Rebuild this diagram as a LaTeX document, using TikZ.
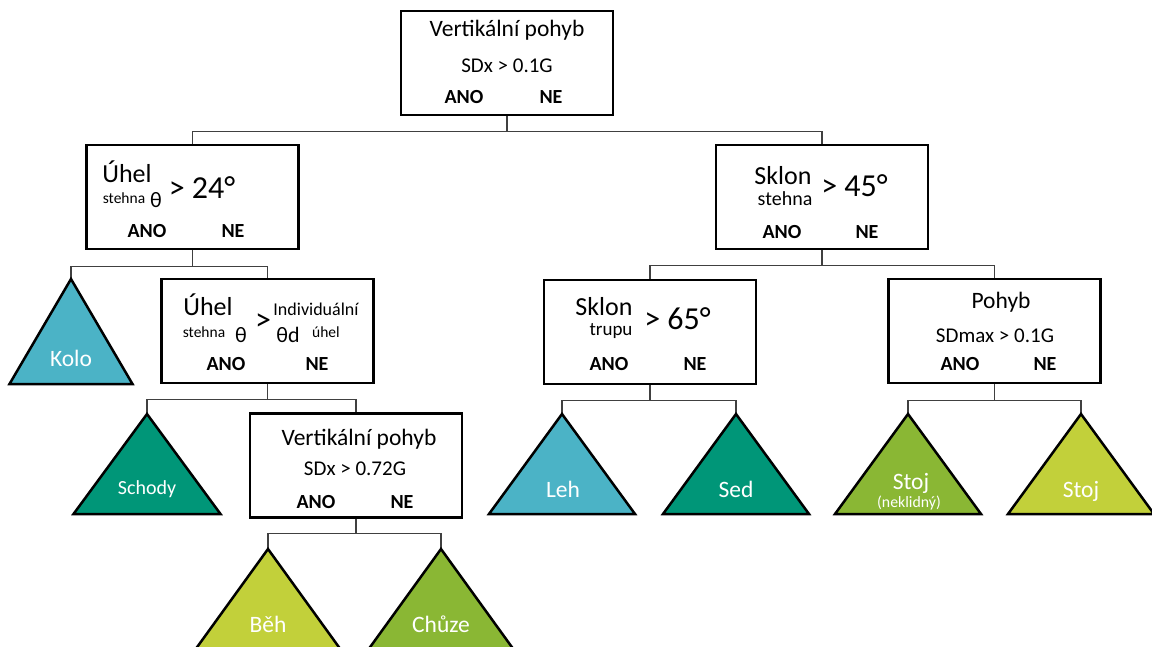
\documentclass[tikz,border=0pt]{standalone}
\usepackage{fontspec}
\setmainfont{Carlito}
\usepackage{xcolor}
\usepackage{tikz}
\usetikzlibrary{calc,positioning}
\definecolor{leafaqua}{RGB}{75,179,198}
\definecolor{leafteal}{RGB}{0,150,120}
\definecolor{leaflime}{RGB}{194,208,58}
\definecolor{leafgreen}{RGB}{138,183,52}

\begin{document}
\begin{tikzpicture}[
	x=1pt, y=-1pt,
	box/.style = {shape=rectangle, draw, line width=2.5pt,
	minimum width=212pt, minimum height=104pt, inner sep=0pt},
	leaf/.style = {draw, line width=2.5pt, line join=miter},
	conn/.style = {draw=black!75, line width=1.2pt},
	txt/.style = {anchor=base, inner sep=0pt},
	headtxt/.style = {txt, font=\fontsize{23.5}{28}\selectfont},
	ruletxt/.style = {txt, font=\fontsize{21}{25}\selectfont},
	yesno/.style = {txt, font=\fontsize{20}{24}\selectfont\bfseries},
	wordtxt/.style = {txt, font=\fontsize{26}{30}\selectfont},
	bigtxt/.style = {txt, font=\fontsize{32}{38}\selectfont},
	thetatxt/.style = {txt, font=\fontsize{22}{26}\selectfont},
	subtxt/.style = {txt, font=\fontsize{15.5}{18}\selectfont},
	leaflabel/.style = {txt, text=white, font=\fontsize{23.5}{28}\selectfont}
]
\useasboundingbox (0,0) rectangle (1152,646);

% root
\node[box] (vert) at (507,63) {};
\node[headtxt] (vertHead) at (507,36.5) {Vertikální pohyb};
\node[ruletxt] (vertRule) at (507,72) {SDx > 0.1G};
\node[yesno] (vertAno) at (464,103) {ANO};
\node[yesno] (vertNe) at (551,103) {NE};

% left: thigh angle
\node[box] (uhel) at (192.5,197) {};
\node[wordtxt] (uhelHead) at (127,182) {Úhel};
\node[subtxt] (uhelSub) at (124,203) {stehna};
\node[thetatxt] (uhelTheta) at (156,207) {θ};
\node[bigtxt] (uhelRule) at (202,198) {> 24°};
\node[yesno] (uhelAno) at (147,237) {ANO};
\node[yesno] (uhelNe) at (233,237) {NE};

% left: individual angle
\node[box] (uhelInd) at (267.5,331) {};
\node[wordtxt] (uhelIndHead) at (208,315) {Úhel};
\node[subtxt] (uhelIndSub) at (204,337) {stehna};
\node[thetatxt] (uhelIndTheta) at (241,342) {θ};
\node[bigtxt] (uhelIndGt) at (263,330) {>};
\node[txt, font=\fontsize{18}{22}\selectfont] (uhelIndWord) at (316,315) {Individuální};
\node[thetatxt] (uhelIndThetaD) at (288,342) {θd};
\node[subtxt] (uhelIndWord2) at (326,337) {úhel};
\node[yesno] (uhelIndAno) at (226,370) {ANO};
\node[yesno] (uhelIndNe) at (317,370) {NE};

% left: vertical movement (run)
\node[box] (vertRun) at (356,465.5) {};
\node[headtxt] (vertRunHead) at (359,445) {Vertikální pohyb};
\node[ruletxt] (vertRunRule) at (355,475) {SDx > 0.72G};
\node[yesno] (vertRunAno) at (316,508) {ANO};
\node[yesno] (vertRunNe) at (402,508) {NE};

% right: thigh tilt
\node[box] (sklon) at (822,197) {};
\node[wordtxt] (sklonHead) at (783,184) {Sklon};
\node[txt, font=\fontsize{20}{24}\selectfont] (sklonSub) at (785,205) {stehna};
\node[bigtxt] (sklonRule) at (854.5,196) {> 45°};
\node[yesno] (sklonAno) at (782,238) {ANO};
\node[yesno] (sklonNe) at (867,238) {NE};

% right: trunk tilt
\node[box] (sklonTrup) at (650,332) {};
\node[wordtxt] (sklonTrupHead) at (604,315) {Sklon};
\node[txt, font=\fontsize{19}{23}\selectfont] (sklonTrupSub) at (611,335) {trupu};
\node[bigtxt] (sklonTrupRule) at (677.5,329) {> 65°};
\node[yesno] (sklonTrupAno) at (609,370) {ANO};
\node[yesno] (sklonTrupNe) at (695,370) {NE};

% right: movement
\node[box] (pohyb) at (994.5,331) {};
\node[headtxt] (pohybHead) at (1001,308) {Pohyb};
\node[ruletxt] (pohybRule) at (995,342) {SDmax > 0.1G};
\node[yesno] (pohybAno) at (960,370) {ANO};
\node[yesno] (pohybNe) at (1045,370) {NE};

% leaf apexes
\coordinate (kolo) at (71,279);
\coordinate (schody) at (147,414);
\coordinate (beh) at (268,549);
\coordinate (chuze) at (441,549);
\coordinate (leh) at (562,414);
\coordinate (sed) at (736,414);
\coordinate (stojNek) at (908,414);
\coordinate (stoj) at (1081,414);

% connectors
\draw[conn] (vert.south) -- ++(0,15) -| (uhel.north);
\draw[conn] (vert.south) -- ++(0,15) -| (sklon.north);
\draw[conn] (uhel.south) -- ++(0,16) -| (kolo);
\draw[conn] (uhel.south) -- ++(0,16) -| (uhelInd.north);
\draw[conn] (uhelInd.south) -- ++(0,15) -| (schody);
\draw[conn] (uhelInd.south) -- ++(0,15) -| (vertRun.north);
\draw[conn] (vertRun.south) -- ++(0,15) -| (beh);
\draw[conn] (vertRun.south) -- ++(0,15) -| (chuze);
\draw[conn] (sklon.south) -- ++(0,15) -| (sklonTrup.north);
\draw[conn] (sklon.south) -- ++(0,15) -| (pohyb.north);
\draw[conn] (sklonTrup.south) -- ++(0,15) -| (leh);
\draw[conn] (sklonTrup.south) -- ++(0,15) -| (sed);
\draw[conn] (pohyb.south) -- ++(0,16) -| (stojNek);
\draw[conn] (pohyb.south) -- ++(0,16) -| (stoj);

% leaves
\draw[leaf, fill=leafaqua] (kolo) -- ++(61.5,105) -- ++(-123,0) -- cycle;
\draw[leaf, fill=leafteal] (schody) -- ++(73.5,100) -- ++(-147,0) -- cycle;
\draw[leaf, fill=leaflime] (beh) -- ++(73,101) -- ++(-146,0) -- cycle;
\draw[leaf, fill=leafgreen] (chuze) -- ++(73,101) -- ++(-146,0) -- cycle;
\draw[leaf, fill=leafaqua] (leh) -- ++(73,100) -- ++(-146,0) -- cycle;
\draw[leaf, fill=leafteal] (sed) -- ++(73,100) -- ++(-146,0) -- cycle;
\draw[leaf, fill=leafgreen] (stojNek) -- ++(73,100) -- ++(-146,0) -- cycle;
\draw[leaf, fill=leaflime] (stoj) -- ++(73,100) -- ++(-146,0) -- cycle;

\node[leaflabel] (koloText) at (71,366) {Kolo};
\node[leaflabel, font=\fontsize{20}{24}\selectfont] (schodyText) at (147,494) {Schody};
\node[leaflabel] (behText) at (268,632) {Běh};
\node[leaflabel] (chuzeText) at (441,632) {Chůze};
\node[leaflabel] (lehText) at (563,497) {Leh};
\node[leaflabel] (sedText) at (736,497) {Sed};
\node[leaflabel] (stojNekText) at (911,489) {Stoj};
\node[leaflabel, font=\fontsize{15.8}{18}\selectfont] (stojNekNote) at (909,507) {(neklidný)};
\node[leaflabel] (stojText) at (1081,497) {Stoj};
\end{tikzpicture}
\end{document}
